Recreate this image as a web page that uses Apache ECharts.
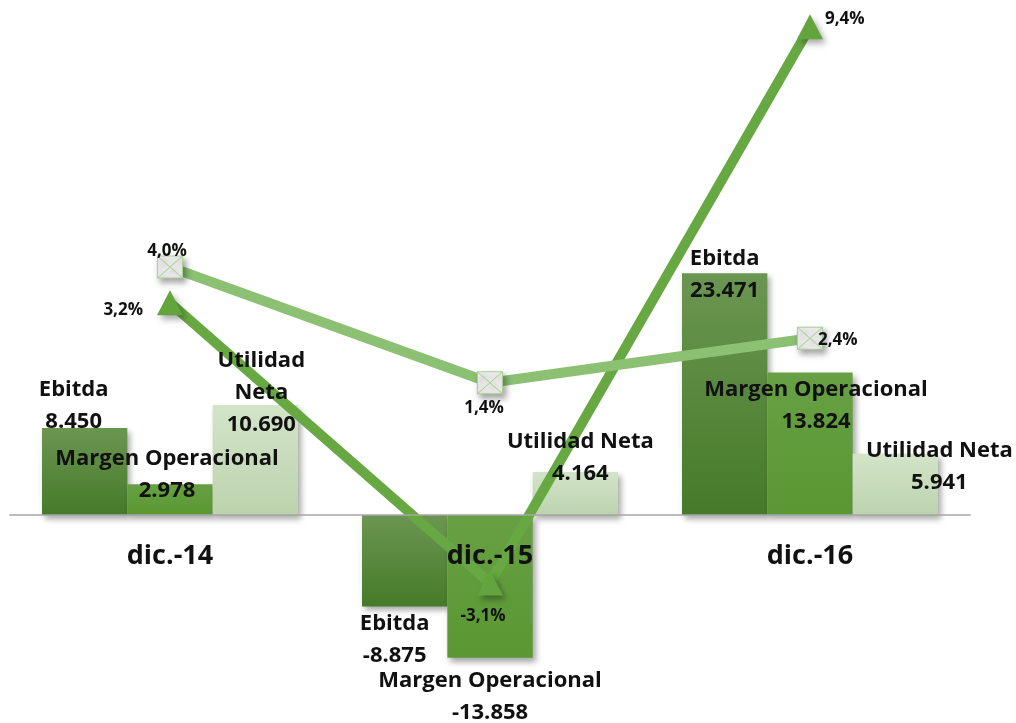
<!DOCTYPE html>
<html>
<head>
<meta charset="utf-8">
<script src="https://cdn.jsdelivr.net/npm/echarts@6/dist/echarts.min.js"></script>
<style>
  html, body { margin: 0; padding: 0; background: #fff; }
  #container { width: 1016px; height: 723px; }
</style>
</head>
<body>
<div id="container"></div>
<script>
// datos
var categorias = ['dic.-14', 'dic.-15', 'dic.-16'];
var ebitda = [8450, -8875, 23471];
var margenOperacional = [2978, -13858, 13824];
var utilidadNeta = [10690, 4164, 5941];
var nombresUtilidad = ['Utilidad\nNeta', 'Utilidad Neta', 'Utilidad Neta'];
var pctTriangulo = [3.2, -3.1, 9.4];
var pctSobre = [4.0, 1.4, 2.4];

var fuente = '"Open Sans", "Liberation Sans", sans-serif';

function miles(v) {
    var s = Math.abs(v).toString().replace(/\B(?=(\d{3})+(?!\d))/g, '.');
    return (v < 0 ? '-' : '') + s;
}
function pct(v) {
    return v.toFixed(1).replace('.', ',') + '%';
}

function grad(c1, c2) {
    return new echarts.graphic.LinearGradient(0, 0, 0, 1, [
        { offset: 0, color: c1 },
        { offset: 1, color: c2 }
    ]);
}

var sombra = {
    shadowColor: 'rgba(0,0,0,0.35)',
    shadowBlur: 6,
    shadowOffsetX: 3,
    shadowOffsetY: 4
};

// per-point label placement: [position, dx, dy]
function barItems(values, names, places) {
    return values.map(function (v, i) {
        var p = places[i];
        return {
            value: v,
            label: {
                position: p[0],
                offset: [p[1], p[2]],
                formatter: names[i] + '\n' + miles(v)
            }
        };
    });
}

function lineItems(values, places) {
    return values.map(function (v, i) {
        var p = places[i];
        return {
            value: v,
            label: { position: p[0], offset: [p[1], p[2]] }
        };
    });
}

var labelBase = {
    show: true,
    distance: 0,
    fontFamily: fuente,
    fontWeight: 'bold',
    fontSize: 22,
    lineHeight: 32,
    color: '#111',
    align: 'center'
};

var labelPct = {
    show: true,
    distance: 0,
    fontFamily: fuente,
    fontWeight: 'bold',
    fontSize: 17,
    color: '#111',
    formatter: function (p) { return pct(p.value); }
};

// visible bars (no labels) and a transparent copy on top carrying the labels
function barPair(name, values, colorA, colorB, names, places) {
    return [
        {
            name: name,
            type: 'bar',
            z: 2,
            barGap: '0%',
            barCategoryGap: '20%',
            itemStyle: Object.assign({ color: grad(colorA, colorB) }, sombra),
            data: values
        },
        {
            name: name + ' etiqueta',
            type: 'bar',
            xAxisIndex: 1,
            z: 10,
            barGap: '0%',
            barCategoryGap: '20%',
            itemStyle: { color: 'rgba(0,0,0,0)' },
            label: labelBase,
            data: barItems(values, names, places)
        }
    ];
}

var dom = document.getElementById('container');
var myChart = echarts.init(dom, null, { renderer: 'canvas' });

var series = [];
series = series.concat(barPair('Ebitda', ebitda, '#6b9652', '#467a28',
    ['Ebitda', 'Ebitda', 'Ebitda'],
    [['top', -11, 10], ['bottom', -10, 1], ['top', 0, 33]]));
series = series.concat(barPair('Margen Operacional', margenOperacional, '#67a044', '#5a9832',
    ['Margen Operacional', 'Margen Operacional', 'Margen Operacional'],
    [['top', -3, 22], ['bottom', 0, 7], ['top', 6, 65]]));
series = series.concat(barPair('Utilidad Neta', utilidadNeta, '#d3e4c9', '#bcd3ad',
    nombresUtilidad,
    [['top', 6, 36], ['top', 5, 18], ['top', 44, 45]]));

series.push({
    name: 'Margen %',
    type: 'line',
    yAxisIndex: 1,
    z: 3,
    symbol: 'triangle',
    symbolSize: [26, 25],
    itemStyle: Object.assign({ color: '#64a43c' }, sombra),
    lineStyle: { color: '#67a842', width: 10 },
    label: labelPct,
    data: lineItems(pctTriangulo,
        [['left', -14, 8], ['bottom', -7, 12], ['right', 2, -8]])
});
series.push({
    name: 'Neta %',
    type: 'line',
    yAxisIndex: 1,
    z: 3,
    symbol: 'path://M0,0L24,0L24,22L0,22Z M0,0L24,22 M24,0L0,22',
    symbolSize: [25, 22],
    itemStyle: Object.assign({ color: '#f2f2f2', borderColor: '#a9d193', borderWidth: 1 }, sombra),
    lineStyle: { color: '#8cc173', width: 10 },
    label: labelPct,
    data: lineItems(pctSobre,
        [['top', -3, 4], ['bottom', -6, 5], ['right', -5, 2]])
});

option = {
    animation: false,
    backgroundColor: '#fff',
    grid: { left: 10, right: 46, top: 0, height: 721, outerBoundsMode: 'none', containLabel: false },
    xAxis: [
        {
            type: 'category',
            data: categorias,
            position: 'bottom',
            offset: -206,
            z: 12,
            axisLine: { onZero: false, lineStyle: { color: '#a6a6a6', width: 1.5 } },
            axisTick: { show: false },
            axisLabel: {
                margin: 28,
                fontFamily: fuente,
                fontWeight: 'bold',
                fontSize: 27,
                color: '#111'
            }
        },
        { type: 'category', data: categorias, show: false }
    ],
    yAxis: [
        { type: 'value', min: -20000, max: 50000, show: false, splitLine: { show: false } },
        { type: 'value', min: -6.2, max: 10, show: false, splitLine: { show: false } }
    ],
    series: series
};

if (option && typeof option === 'object') {
    myChart.setOption(option, true);
}
</script>
</body>
</html>
